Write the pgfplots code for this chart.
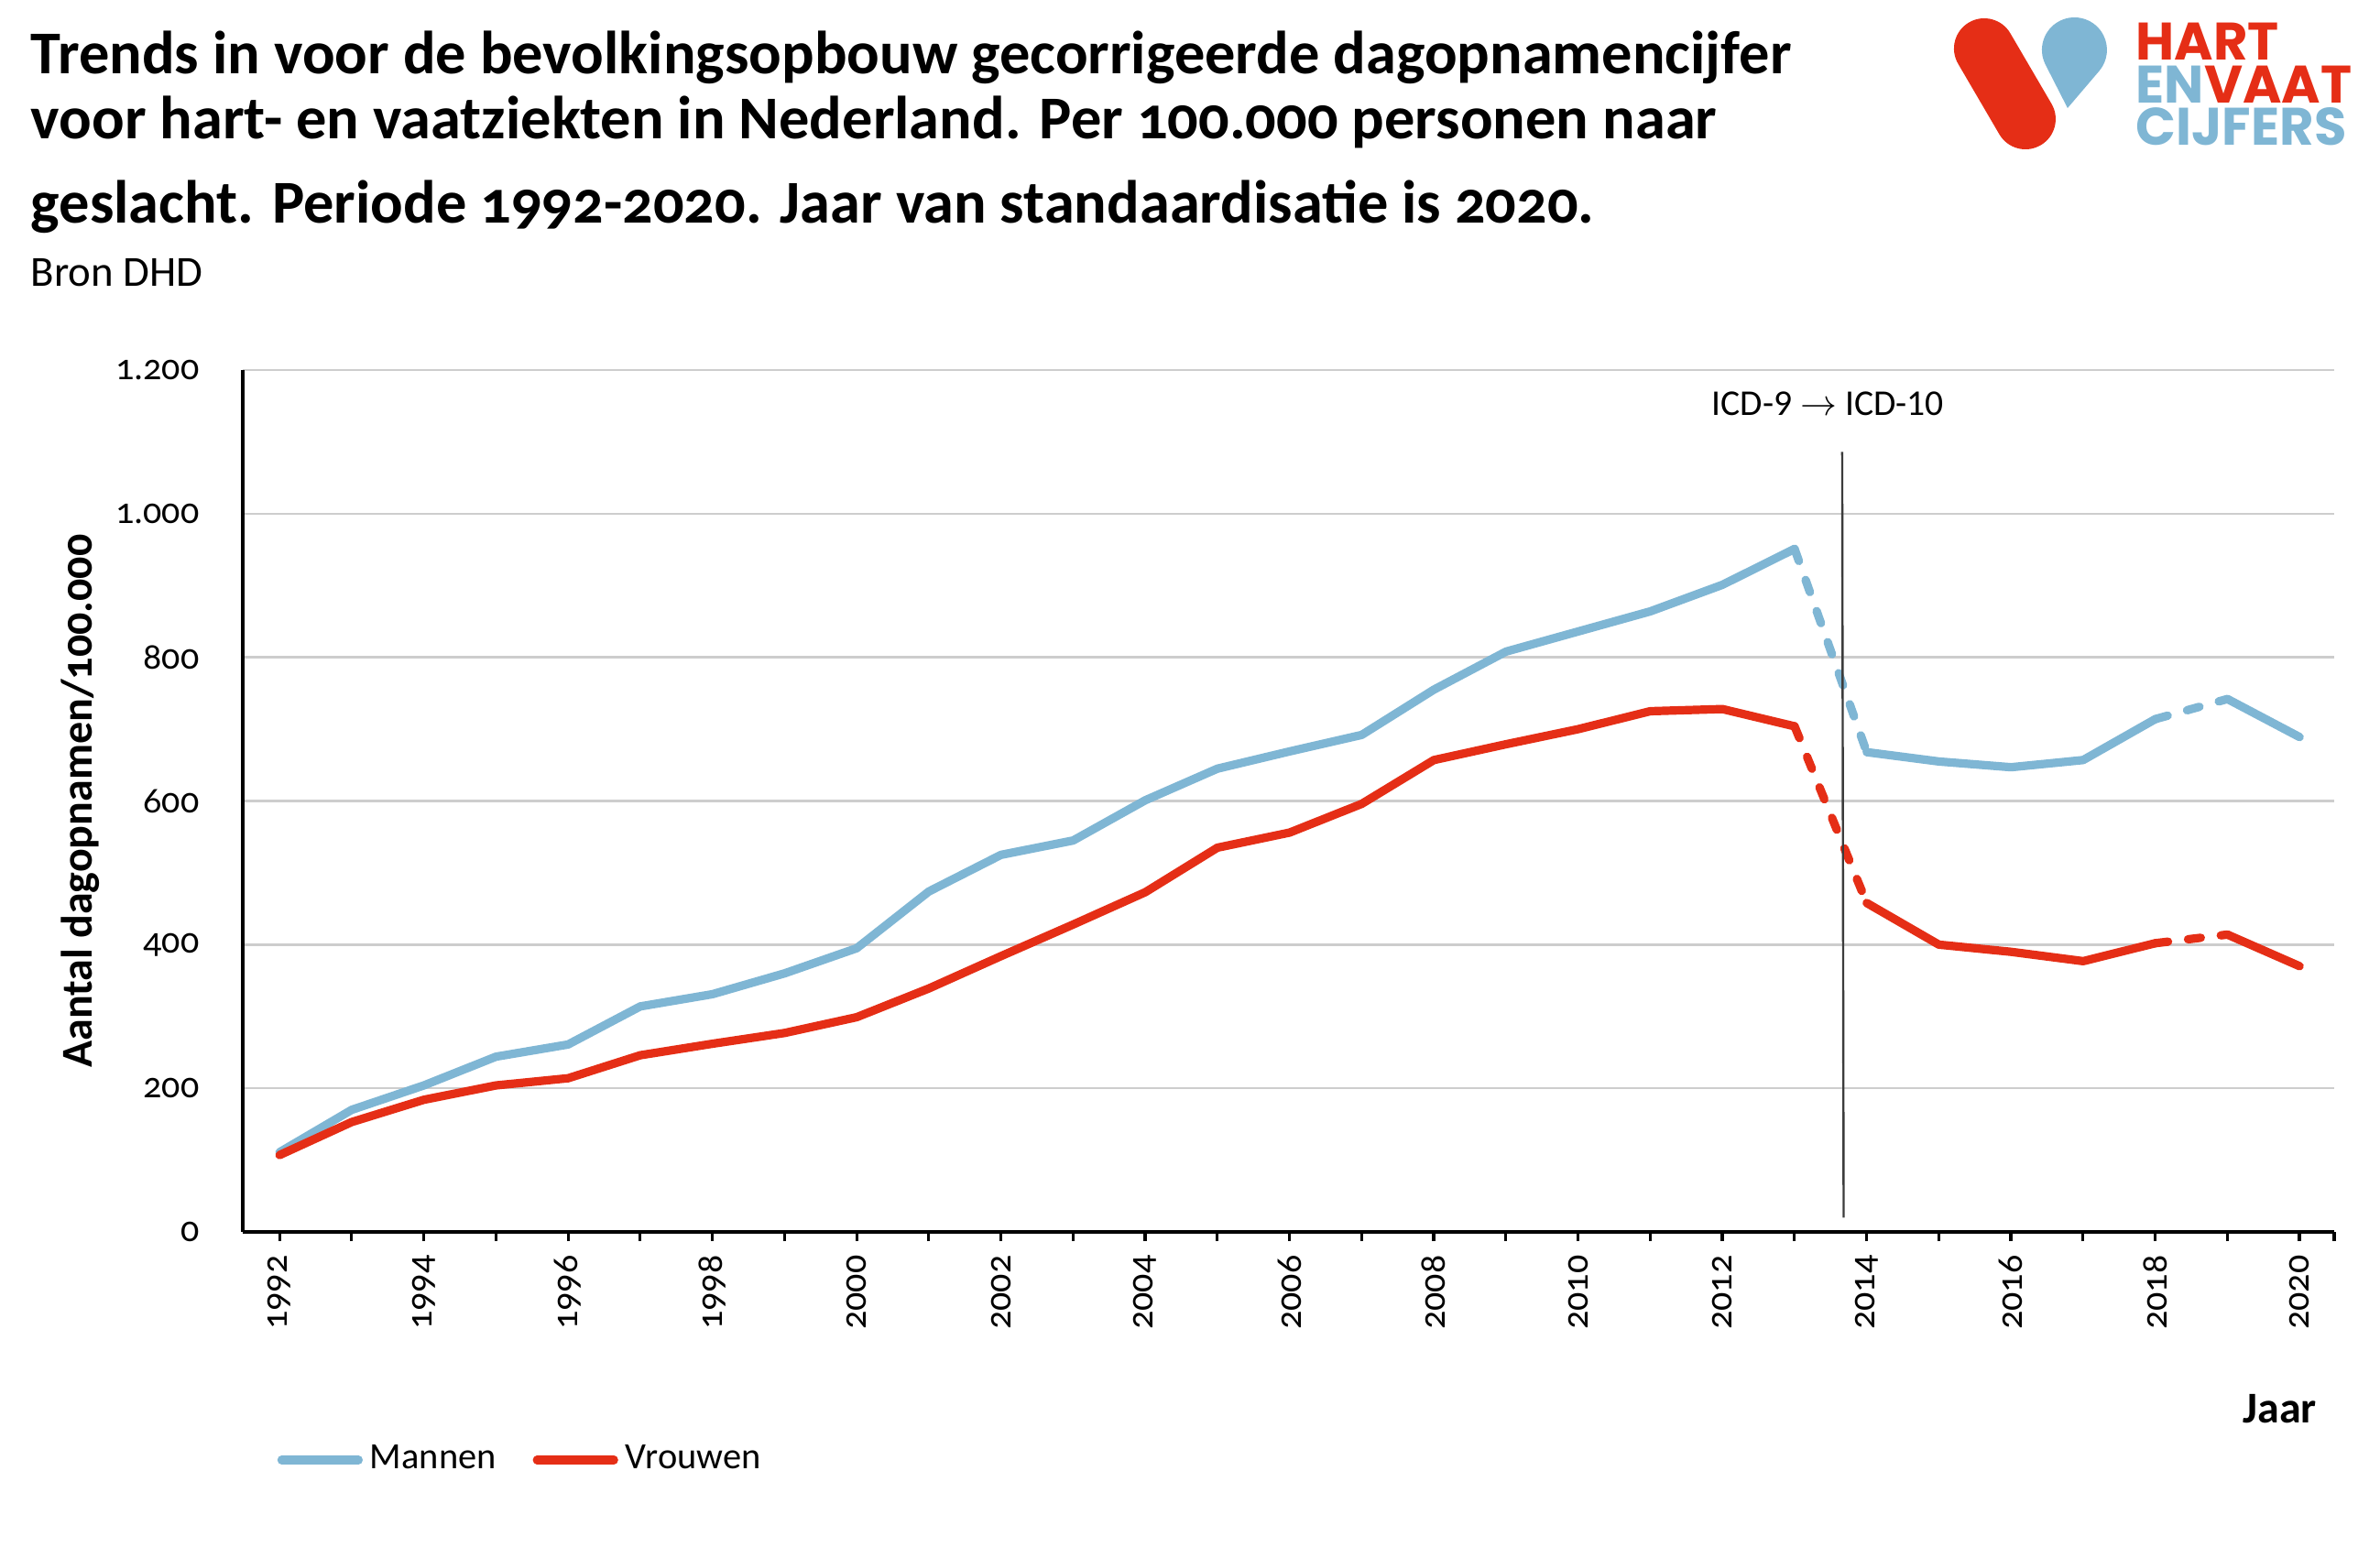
\documentclass[border=0pt]{standalone}
\usepackage{pgfplots}
\pgfplotsset{compat=1.18}
\usetikzlibrary{calc}
\usepackage{fontspec}
\setmainfont{Carlito}
\newfontfamily\oldfont[Numbers=OldStyle]{Carlito}
\newfontfamily\logofont{Poppins}
\definecolor{mblue}{RGB}{127,182,212}
\definecolor{vred}{RGB}{229,46,22}
\definecolor{gridc}{RGB}{205,205,205}
\definecolor{vline}{RGB}{60,60,60}
\begin{document}
\begin{tikzpicture}
\path[use as bounding box] (0,0) rectangle (649.5bp,-422.25bp);
\begin{scope}[x=0.25bp,y=-0.25bp]
% title
\node[anchor=base west, inner sep=0] at (33,80) {\fontsize{16.6bp}{19bp}\selectfont\oldfont\bfseries Trends in voor de bevolkingsopbouw gecorrigeerde dagopnamencijfer};
\node[anchor=base west, inner sep=0] at (33,152) {\fontsize{16.6bp}{19bp}\selectfont\oldfont\bfseries voor hart- en vaatziekten in Nederland. Per 100.000 personen naar};
\node[anchor=base west, inner sep=0] at (33,244) {\fontsize{16.6bp}{19bp}\selectfont\oldfont\bfseries geslacht. Periode 1992-2020. Jaar van standaardisatie is 2020.};
\node[anchor=base west, inner sep=0] at (33,313) {\fontsize{11.7bp}{13bp}\selectfont Bron DHD};
% logo
\draw[vred, line width=16.5bp, line cap=round] (2166,53) -- (2211,130);
\fill[mblue] (2257,118) -- ($(2264.5,54.5)+(153:35.5)$) arc[start angle=153, end angle=400.4, radius=35.5] -- cycle;
\node[anchor=north west, inner sep=0, align=left, font=\fontsize{14.4bp}{11.7bp}\selectfont\logofont\bfseries] at (2331,24)
  {\textcolor{vred}{HART}\\\textcolor{mblue}{EN}\textcolor{vred}{VAAT}\\\textcolor{mblue}{CIJFERS}};
\end{scope}
\begin{axis}[
  at={(66.25bp,-336.25bp)}, anchor=south west,
  scale only axis, width=570.75bp, height=235.25bp,
  xmin=1991.49, xmax=2020.48, ymin=0, ymax=1200,
  axis x line*=bottom, axis y line*=left,
  x axis line style={line width=1bp, black},
  y axis line style={line width=0.8bp, black},
  xtick={1992,...,2020},
  xticklabels={1992,,1994,,1996,,1998,,2000,,2002,,2004,,2006,,2008,,2010,,2012,,2014,,2016,,2018,,2020},
  extra x ticks={2020.48}, extra x tick labels={},
  extra x tick style={grid=none},
  tick align=outside, major tick length=2.5bp,
  xtick style={line width=0.8bp, black},
  ytick={0,200,...,1200},
  yticklabels={0,200,400,600,800,1.000,1.200},
  ytick style={draw=none},
  ymajorgrids, grid style={gridc, line width=0.6bp},
  tick label style={font=\fontsize{10bp}{12bp}\selectfont\oldfont},
  xticklabel style={rotate=90, anchor=east, inner sep=0pt, xshift=-3.7bp},
  yticklabel style={anchor=east, inner sep=0pt, xshift=-9.2bp},
  ylabel={Aantal dagopnamen/100.000},
  ylabel style={at={(axis description cs:-0.0775,0.5)}, anchor=center, font=\fontsize{12bp}{14bp}\selectfont\oldfont\bfseries},
  xlabel={Jaar},
  xlabel style={at={(axis description cs:0.974,-0.222)}, anchor=base, font=\fontsize{12bp}{14bp}\selectfont\bfseries},
  legend columns=2,
  legend style={at={(axis description cs:0.0162,-0.2646)}, anchor=west, draw=none, fill=none, inner sep=0pt,
    font=\fontsize{10.1bp}{12bp}\selectfont, /tikz/every even column/.append style={column sep=8bp}},
  legend image code/.code={\draw[#1, line cap=round] (0bp,0bp) -- (21bp,0bp);},
  every axis plot/.append style={line width=2.3bp, line cap=round, line join=round},
  clip=false,
]
\addplot[mblue] coordinates {(1992,111)(1993,170)(1994,204)(1995,244)(1996,261)(1997,314)(1998,331)(1999,360)(2000,395)(2001,474)(2002,525)(2003,545)(2004,601)(2005,645)(2006,669)(2007,692)(2008,755)(2009,808)(2010,836)(2011,864)(2012,901)(2013,951)};
\addlegendentry{Mannen}
\addplot[mblue, dash pattern=on 3.5bp off 5.5bp, forget plot] coordinates {(2013,951)(2014,668)};
\addplot[mblue, forget plot] coordinates {(2014,668)(2015,655)(2016,647)(2017,657)(2018,714)};
\addplot[mblue, dash pattern=on 3.5bp off 5.5bp, forget plot] coordinates {(2018,714)(2019,742)};
\addplot[mblue, forget plot] coordinates {(2019,742)(2020,689)};
\addplot[vred] coordinates {(1992,107)(1993,153)(1994,184)(1995,204)(1996,214)(1997,246)(1998,262)(1999,277)(2000,299)(2001,339)(2002,384)(2003,428)(2004,473)(2005,535)(2006,556)(2007,596)(2008,657)(2009,679)(2010,700)(2011,725)(2012,728)(2013,704)};
\addlegendentry{Vrouwen}
\addplot[vred, dash pattern=on 3.5bp off 5.5bp, forget plot] coordinates {(2013,704)(2014,458)};
\addplot[vred, forget plot] coordinates {(2014,458)(2015,400)(2016,390)(2017,377)(2018,402)};
\addplot[vred, dash pattern=on 3.5bp off 5.5bp, forget plot] coordinates {(2018,402)(2019,414)};
\addplot[vred, forget plot] coordinates {(2019,414)(2020,370)};
\addplot[vline, line width=0.6bp, line cap=butt, forget plot] coordinates {(2013.66,1086)(2013.68,20)};
\node[anchor=base, inner sep=0, font=\fontsize{9.9bp}{11bp}\selectfont] at (axis cs:2013.46,1137.5) {ICD-9 $\rightarrow$ ICD-10};
\end{axis}
\end{tikzpicture}
\end{document}
